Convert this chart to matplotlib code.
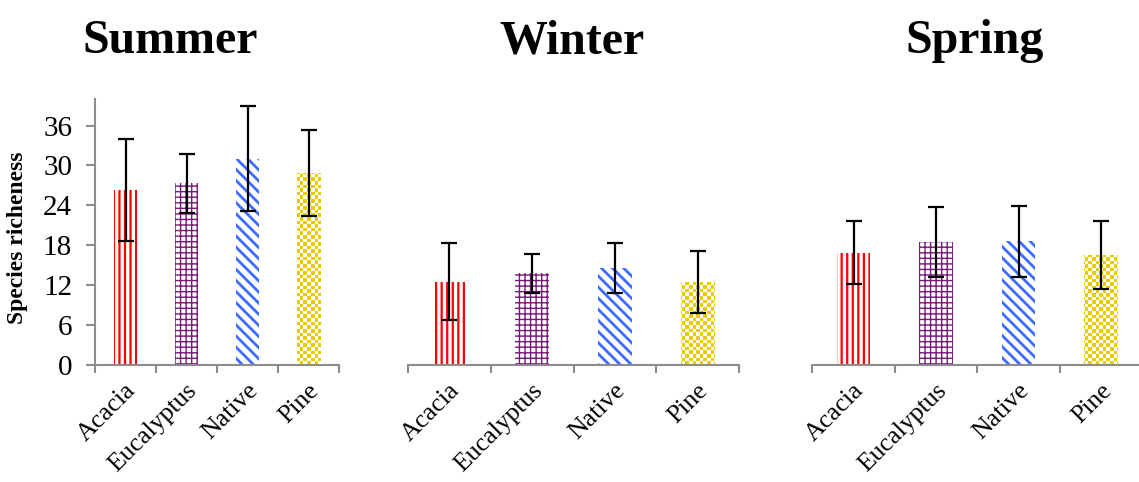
import numpy as np
import matplotlib
matplotlib.use("Agg")
import matplotlib.pyplot as plt
from matplotlib.colors import ListedColormap
from matplotlib.transforms import ScaledTranslation

# Species richness (mean and error) per plantation type and season
habitats = ["Acacia", "Eucalyptus", "Native", "Pine"]
seasons = ["Summer", "Winter", "Spring"]
summer_mean = [26.3, 27.3, 31.0, 28.9]
summer_err = [7.7, 4.5, 7.9, 6.5]
winter_mean = [12.5, 13.8, 14.6, 12.5]
winter_err = [5.8, 2.9, 3.8, 4.7]
spring_mean = [16.9, 18.5, 18.6, 16.5]
spring_err = [4.7, 5.2, 5.3, 5.1]
yticks = [0, 6, 12, 18, 24, 30, 36]

means = [summer_mean, winter_mean, spring_mean]
errs = [summer_err, winter_err, spring_err]

colors = ["#ff0000", "#7a1a78", "#3d6cff", "#e8cb00"]
hatches = ["|||", "+++", "\\\\\\", None]
hatch_lw = [1.6, 1.0, 2.0, 1.0]

serif = ["Liberation Serif", "DejaVu Serif"]
plt.rcParams["font.family"] = serif
plt.rcParams["hatch.linewidth"] = 1.5

W, H = 1139, 482
fig = plt.figure(figsize=(W / 100, H / 100), dpi=100)

axes_px = [(95, 244), (407.7, 331.6), (812.3, 330)]
bar_widths = [0.38, 0.41, 0.41]
bottom_px, height_px = 117, 266
title_x = [170, 572.5, 975]
spine_col = "#8c8c8c"

for i, (left, width) in enumerate(axes_px):
    ax = fig.add_axes([left / W, bottom_px / H, width / W, height_px / H])
    x = np.arange(len(habitats))
    bars = ax.bar(x, means[i], width=bar_widths[i], color="white",
                  linewidth=0, zorder=2)
    for j, p in enumerate(bars):
        p.set_edgecolor(colors[j])
        if hatches[j]:
            p.set_hatch(hatches[j])
            if hasattr(p, "set_hatch_linewidth"):
                p.set_hatch_linewidth(hatch_lw[j])
    # checkerboard fill for the Pine bar
    pine = bars[3]
    cell = 3.6
    nx = int(round(width / cell))
    ny = int(round(height_px / cell))
    board = (np.add.outer(np.arange(ny), np.arange(nx)) % 2).astype(float)
    cmap = ListedColormap(["white", colors[3]])
    im = ax.imshow(board, cmap=cmap, extent=(-0.5, len(habitats) - 0.5, 0, 40),
                   aspect="auto", interpolation="nearest", origin="lower",
                   zorder=2.5)
    im.set_clip_path(pine)
    ax.set_xlim(-0.5, len(habitats) - 0.5)
    ax.set_ylim(0, 40)

    ax.errorbar(x, means[i], yerr=errs[i], fmt="none", ecolor="black",
                elinewidth=1.6, capsize=6, capthick=1.6, zorder=4)

    for s in ["top", "right"]:
        ax.spines[s].set_visible(False)
    ax.spines["bottom"].set_color(spine_col)
    ax.spines["bottom"].set_linewidth(1.5)
    if i == 0:
        ax.spines["left"].set_color(spine_col)
        ax.spines["left"].set_linewidth(1.5)
        ax.set_yticks(yticks)
        ax.tick_params(axis="y", length=6.5, width=1.5, color=spine_col,
                       labelsize=21, pad=10)
    else:
        ax.spines["left"].set_visible(False)
        ax.set_yticks([])

    ax.set_xticks(np.arange(-0.5, len(habitats)), minor=False)
    ax.set_xticklabels([])
    ax.tick_params(axis="x", which="major", length=6, width=1.5,
                   color=spine_col, direction="out")
    ax.set_xticks(x, minor=True)
    ax.set_xticklabels(habitats, minor=True, rotation=45, ha="right",
                       va="center", rotation_mode="anchor", fontsize=18.5)
    ax.tick_params(axis="x", which="minor", length=0, pad=16)
    offset = ScaledTranslation(7 / 100, 0, fig.dpi_scale_trans)
    for lab in ax.get_xticklabels(minor=True):
        lab.set_transform(lab.get_transform() + offset)

    fig.text(title_x[i] / W, 1 - 53 / H, seasons[i], ha="center",
             va="baseline", fontsize=34.5, fontweight="bold")

fig.text(18 / W, 1 - 238 / H, "Species richeness", rotation=90, ha="center",
         va="center", fontsize=17, fontweight="bold")

fig.savefig("out.png", dpi=100)
